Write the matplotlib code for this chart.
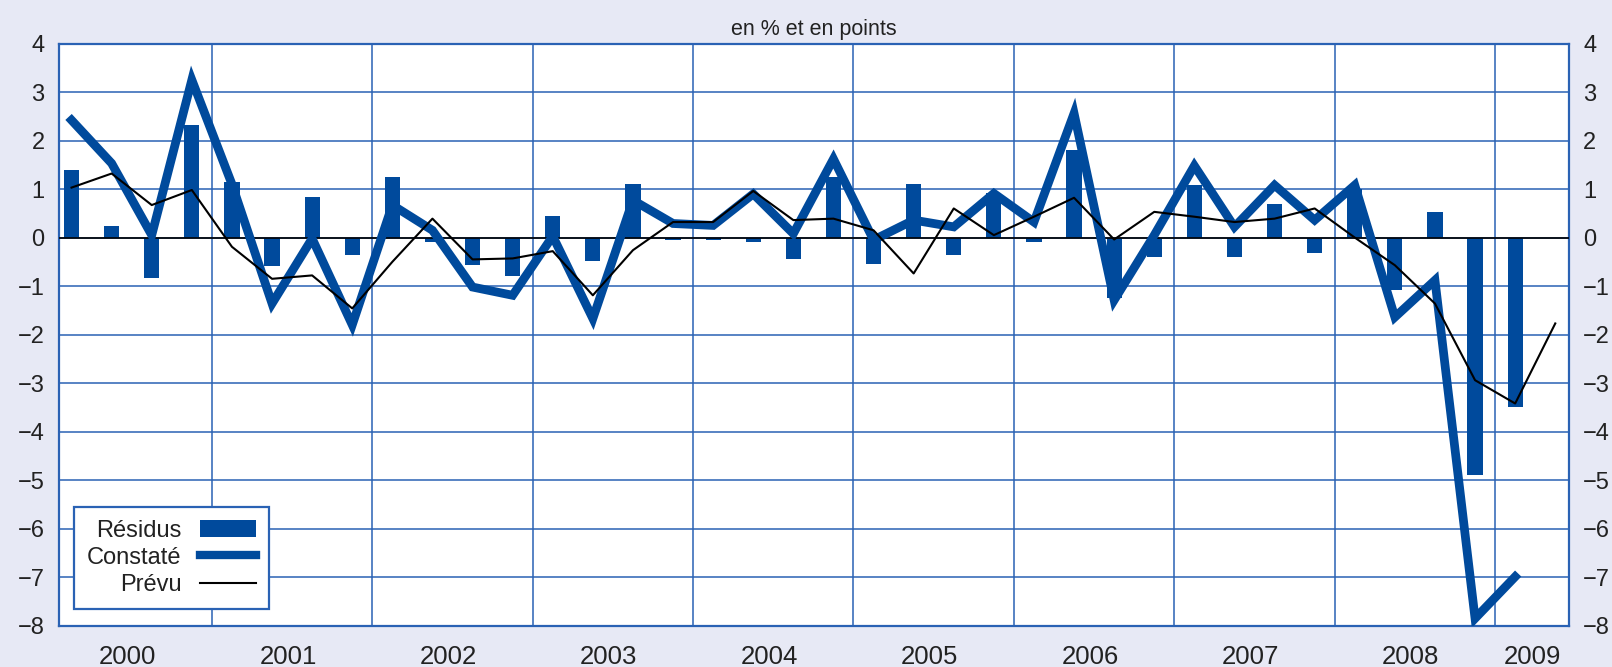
import numpy as np
import matplotlib
matplotlib.use("Agg")
import matplotlib.pyplot as plt
from matplotlib.patches import Patch
from matplotlib.lines import Line2D

plt.rcParams['font.family'] = ['Liberation Sans', 'DejaVu Sans']

# ---------------------------------------------------------------
# data : quarterly, 2000Q1 .. 2009Q2  (en % et en points)
# ---------------------------------------------------------------
years = [2000, 2001, 2002, 2003, 2004, 2005, 2006, 2007, 2008, 2009]

residus = [1.40, 0.23, -0.83, 2.32,
           1.15, -0.58, 0.84, -0.36,
           1.24, -0.10, -0.57, -0.80,
           0.44, -0.49, 1.10, -0.05,
           -0.05, -0.09, -0.45, 1.25,
           -0.54, 1.10, -0.36, 0.91,
           -0.09, 1.80, -1.25, -0.40,
           1.08, -0.40, 0.70, -0.31,
           1.00, -1.09, 0.53, -4.90,
           -3.50]

constate = [2.42, 1.53, 0.05, 3.25,
            1.10, -1.36, -0.02, -1.80,
            0.67, 0.15, -1.02, -1.19,
            0.03, -1.67, 0.77, 0.29,
            0.25, 0.90, 0.08, 1.62,
            -0.05, 0.36, 0.22, 0.91,
            0.32, 2.56, -1.29, 0.05,
            1.48, 0.22, 1.08, 0.36,
            1.08, -1.64, -0.88, -7.85,
            -6.99]

prevu = [1.03, 1.32, 0.67, 0.98,
         -0.19, -0.85, -0.78, -1.46,
         -0.50, 0.39, -0.45, -0.43,
         -0.28, -1.19, -0.26, 0.32,
         0.32, 0.96, 0.36, 0.39,
         0.15, -0.74, 0.60, 0.05,
         0.43, 0.82, -0.04, 0.53,
         0.43, 0.32, 0.39, 0.60,
         0.00, -0.57, -1.36, -2.94,
         -3.42, -1.77]

# ---------------------------------------------------------------
BLUE = '#004a9c'
GRID = '#2a62b4'
BG = '#e7e9f5'
TXT = '#222222'

fig = plt.figure(figsize=(16.12, 6.67), dpi=100, facecolor=BG)
ax = fig.add_axes([58.5 / 1612, 1 - 625.7 / 667, 1510.8 / 1612, 582.2 / 667])
ax.set_facecolor('white')

xr = np.arange(len(residus))
xc = np.arange(len(constate))
xp = np.arange(len(prevu))

ax.bar(xr, residus, width=0.38, color=BLUE, zorder=3)
ax.axhline(0, color='black', lw=1.2, zorder=4)
ax.plot(xc, constate, color=BLUE, lw=6.3, solid_joinstyle='miter', zorder=5)
ax.plot(xp, prevu, color='black', lw=1.5, zorder=6)

# axes limits, grid
ax.set_xlim(-0.325, 37.35)
ax.set_ylim(-8, 4)
bounds = [4 * i - 0.5 for i in range(1, len(years))]
ax.set_xticks(bounds)
ax.set_xticklabels([])
centers = [4 * i + 1.4 for i in range(len(years) - 1)] + [(35.5 + 37.35) / 2]
ax.set_xticks(centers, minor=True)
ax.set_xticklabels([str(y) for y in years], minor=True)
ax.set_yticks(range(-8, 5))
ax.grid(True, which='major', color=GRID, lw=1.1, zorder=1)
ax.set_axisbelow(True)

ax.tick_params(axis='x', which='both', length=0)
ax.tick_params(axis='x', which='minor', pad=14, labelsize=18.5, labelcolor=TXT)
ax.tick_params(axis='y', length=0, pad=10, labelsize=17, labelcolor=TXT,
               labelleft=True, labelright=True)
for sp in ax.spines.values():
    sp.set_color(GRID)
    sp.set_linewidth(1.6)

fig.text(814 / 1612, 1 - 29 / 667, 'en % et en points', ha='center', va='center',
         fontsize=15.5, color=TXT)

handles = [Patch(facecolor=BLUE, edgecolor='none'),
           Line2D([], [], color=BLUE, lw=6.0),
           Line2D([], [], color='black', lw=1.5)]
leg = ax.legend(handles, ['Résidus', 'Constaté', 'Prévu'], loc='lower left',
                bbox_to_anchor=(0.0103, 0.0287), borderaxespad=0,
                markerfirst=False, fontsize=17, handlelength=2.35,
                handleheight=0.75, labelspacing=0.22, handletextpad=0.8,
                borderpad=0.55, fancybox=False, framealpha=1, edgecolor=GRID)
leg.get_frame().set_linewidth(1.6)
for t in leg.get_texts():
    t.set_color(TXT)

fig.savefig('out.png', dpi=100, facecolor=BG)
